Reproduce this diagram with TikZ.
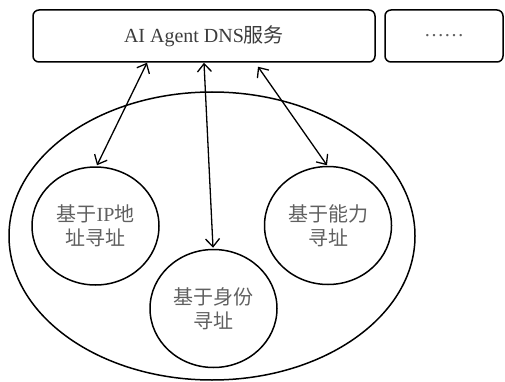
\documentclass[tikz,border=0pt]{standalone}
\usepackage{fontspec}
\setmainfont{Liberation Serif}
\newfontfamily\cjk{Noto Sans CJK SC}
\newcommand{\zh}[1]{{\cjk #1}}
\usetikzlibrary{arrows.meta,shapes.geometric,calc}
\definecolor{labelgray}{HTML}{3C3C3C}
\definecolor{schemegray}{HTML}{606060}
\tikzset{
  frame/.style={draw=black, line width=1.5pt, rounded corners=6pt, inner sep=0pt,
    minimum height=52pt, text=labelgray, font=\fontsize{20}{24}\selectfont},
  scheme/.style={draw=black, line width=1.5pt, ellipse, inner sep=0pt,
    minimum width=127pt, minimum height=118pt, align=center, text=schemegray,
    font=\fontsize{20}{24}\selectfont},
  link/.style={line width=1.3pt, {Straight Barb[length=8pt,width=14pt,line width=1.3pt]}-{Straight Barb[length=8pt,width=14pt,line width=1.3pt]}}
}
\begin{document}
\begin{tikzpicture}[x=1pt,y=-1pt]
  \useasboundingbox (0,0) rectangle (505,382);

  % service layer
  \node[frame, minimum width=342pt] (dns) at (204,36) {AI Agent DNS\zh{服务}};
  \node[frame, minimum width=118pt, text=schemegray] (more) at (444,36) {……};

  % addressing schemes
  \node[draw=black, line width=1.5pt, ellipse, inner sep=0pt,
        minimum width=406pt, minimum height=288pt] (scope) at (212,236) {};
  \node[scheme] (ipaddr) at (95.5,226) {\zh{基于}IP\zh{地}\\\zh{址寻址}};
  \node[scheme] (ident) at (213.5,308.5) {\zh{基于身份}\\\zh{寻址}};
  \node[scheme] (capab) at (328,225.5) {\zh{基于能力}\\\zh{寻址}};

  % lookups
  \draw[link] ($(dns.south)+(-57,0)$) -- ($(ipaddr.north)+(1.5,-1)$);
  \draw[link] (dns.south) -- ($(ident.north)+(-0.5,-1)$);
  \draw[link] ($(dns.south)+(54,4)$) -- ($(capab.north)+(-1,-0.5)$);
\end{tikzpicture}
\end{document}
